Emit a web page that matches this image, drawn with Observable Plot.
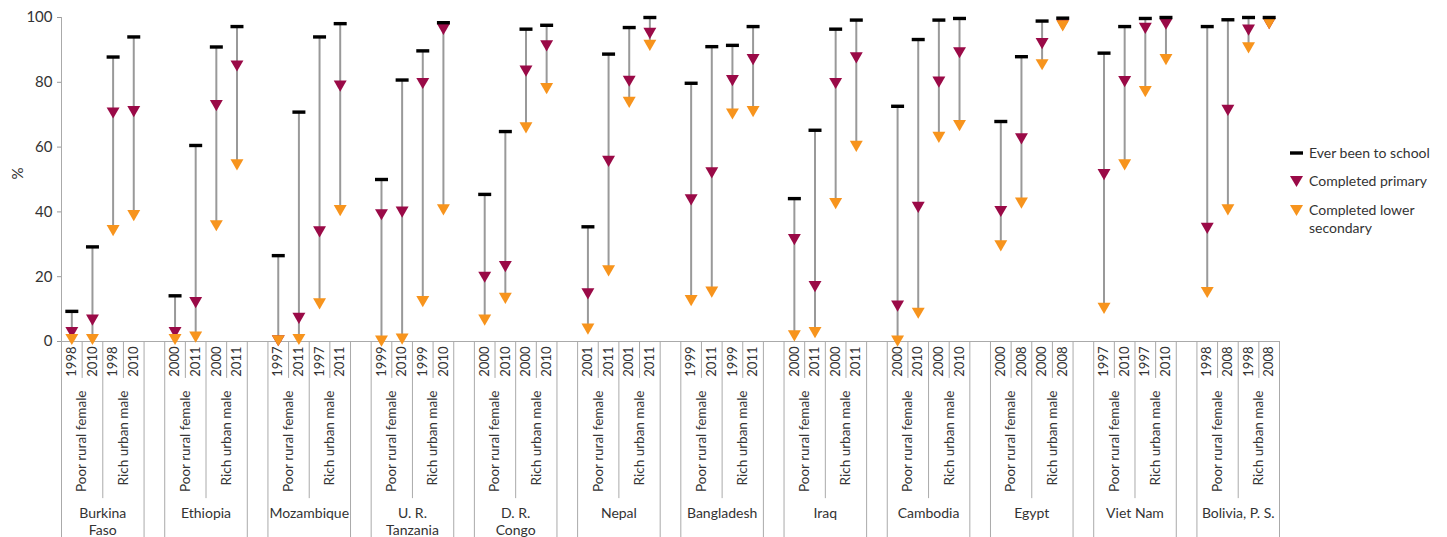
<!DOCTYPE html>
<html>
<head>
<meta charset="utf-8">
<script src="https://cdn.jsdelivr.net/npm/d3@7"></script>
<script src="https://cdn.jsdelivr.net/npm/@observablehq/plot@0.6"></script>
<style>
  html, body { margin: 0; padding: 0; background: #fff; }
  #wrap { position: relative; width: 1447px; height: 537px; overflow: hidden; font-family: Lato, "Open Sans", sans-serif; color: #333; }
  #legend { position: absolute; left: 1288px; top: 144px; font-size: 14px; color: #333; }
  .item { position: absolute; left: 0; white-space: nowrap; }
  .item svg { position: absolute; left: 0; }
  .item span { position: absolute; left: 21px; line-height: 18px; }
</style>
</head>
<body>
<div id="wrap"><div id="legend"></div></div>
<script>
// ---- data ----
const countries = ["Burkina\nFaso", "Ethiopia", "Mozambique", "U. R.\nTanzania", "D. R.\nCongo", "Nepal", "Bangladesh", "Iraq", "Cambodia", "Egypt", "Viet Nam", "Bolivia, P. S."];
const groups = ["Poor rural female", "Rich urban male"];
const firstYear  = [1998, 2000, 1997, 1999, 2000, 2001, 1999, 2000, 2000, 2000, 1997, 1998];
const secondYear = [2010, 2011, 2011, 2010, 2010, 2011, 2011, 2011, 2010, 2008, 2010, 2008];
// per country: poor rural female (year 1, year 2), rich urban male (year 1, year 2)
const everBeenToSchool = [
  9.3, 29.2, 87.8, 94.0,
  14.1, 60.5, 90.9, 97.2,
  26.5, 70.8, 94.0, 98.1,
  50.0, 80.7, 89.7, 98.4,
  45.4, 64.8, 96.4, 97.6,
  35.4, 88.7, 96.9, 100,
  79.7, 91.0, 91.4, 97.2,
  44.1, 65.2, 96.4, 99.2,
  72.6, 93.2, 99.2, 99.7,
  67.9, 87.9, 98.9, 99.8,
  89.0, 97.2, 99.7, 100,
  97.2, 99.3, 100, 100
];
const completedPrimary = [
  3.3, 7.2, 71.1, 71.5,
  3.3, 12.6, 73.4, 85.6,
  0.8, 7.7, 34.4, 79.4,
  39.7, 40.5, 80.2, 96.9,
  20.4, 23.7, 84.0, 91.8,
  15.3, 56.2, 80.9, 95.7,
  44.3, 52.6, 81.1, 87.6,
  32.0, 17.5, 80.2, 88.1,
  11.5, 42.0, 80.6, 89.7,
  40.7, 63.1, 92.5, 98.3,
  52.1, 80.8, 97.2, 98.5,
  35.5, 71.9, 96.7, 98.7
];
const completedLowerSecondary = [
  1.2, 1.2, 34.8, 39.4,
  1.2, 1.9, 36.3, 55.1,
  0.8, 1.2, 12.2, 41.0,
  0.7, 1.3, 12.9, 41.2,
  7.2, 13.9, 66.5, 78.6,
  4.4, 22.4, 74.4, 92.0,
  13.2, 15.8, 70.8, 71.5,
  2.3, 3.3, 43.1, 60.8,
  0.7, 9.3, 63.6, 67.2,
  30.1, 43.3, 86.0, 98.0,
  10.8, 55.1, 77.7, 87.6,
  15.7, 41.2, 91.2, 98.7
];
const yTicks = [0, 20, 40, 60, 80, 100];

// ---- build table ----
const SLOTS = 5; // 4 columns + gap per country
const rows = [];
countries.forEach((country, c) => {
  groups.forEach((group, g) => {
    [firstYear[c], secondYear[c]].forEach((year, t) => {
      const k = g * 2 + t;
      const i = c * 4 + k;
      rows.push({pos: c * SLOTS + k, country, group, year,
        ever: everBeenToSchool[i], prim: completedPrimary[i], sec: completedLowerSecondary[i]});
    });
  });
});
const groupRows = [];
countries.forEach((country, c) => groups.forEach((group, g) => groupRows.push({pos: c * SLOTS + g * 2 + 0.5, group})));
const countryRows = countries.map((country, c) => ({pos: c * SLOTS + 1.5, country}));
const sepYear = [], sepGroup = [], sepCountry = [];
countries.forEach((_, c) => {
  sepYear.push(c * SLOTS + 0.5, c * SLOTS + 2.5);
  sepGroup.push(c * SLOTS + 1.5);
  sepCountry.push(c * SLOTS - 0.5, c * SLOTS + 3.5);
});

const purple = "#9a0a47";
const orange = "#f7941d";
const triDown = {
  draw(ctx, size) {
    const y = Math.sqrt(size / (Math.sqrt(3) * 3));
    ctx.moveTo(0, 2 * y);
    ctx.lineTo(-Math.sqrt(3) * y, -y);
    ctx.lineTo(Math.sqrt(3) * y, -y);
    ctx.closePath();
  }
};
const dash = { draw(ctx) { ctx.rect(-6.5, -1.7, 13, 3.4); } };

const nCols = countries.length * SLOTS - 1;
const sepGrey = "#aaa";
// label-area extents (in y units, below the 0 baseline)
const yearSepEnd = -11.4, groupSepEnd = -48.5, countrySepEnd = -62;

const chart = Plot.plot({
  width: 1447,
  height: 537,
  marginLeft: 61,
  marginRight: 168,
  marginTop: 17,
  marginBottom: 196,
  style: {fontFamily: 'Lato, "Open Sans", sans-serif', color: "#333", background: "white", overflow: "visible"},
  x: {type: "linear", domain: [-0.5, nCols - 0.5], axis: null},
  y: {domain: [0, 100], axis: null},
  marks: [
    Plot.axisY({ticks: yTicks, tickSize: 4, tickPadding: 5, label: null, fontSize: 15, stroke: "#999", fill: "#333"}),
    Plot.ruleX([-0.5], {y1: 0, y2: 100, stroke: sepGrey}),
    Plot.text(["%"], {frameAnchor: "left", dx: -43, rotate: -90, fontSize: 15, fill: "#333"}),
    Plot.ruleY([0], {stroke: sepGrey}),
    Plot.ruleX(sepYear, {y1: 0, y2: yearSepEnd, stroke: sepGrey}),
    Plot.ruleX(sepGroup, {y1: 0, y2: groupSepEnd, stroke: sepGrey}),
    Plot.ruleX(sepCountry, {y1: 0, y2: countrySepEnd, stroke: sepGrey}),
    Plot.text(rows, {x: "pos", y: 0, text: d => String(d.year), rotate: -90, textAnchor: "end", dy: 5, fontSize: 13, fill: "#333"}),
    Plot.text(groupRows, {x: "pos", y: 0, text: "group", rotate: -90, textAnchor: "end", dy: 49, fontSize: 13.5, fill: "#333"}),
    Plot.text(countryRows, {x: "pos", y: 0, text: "country", lineAnchor: "top", dy: 164, lineHeight: 1.25, fontSize: 14, fill: "#333"}),
    Plot.ruleX(rows, {x: "pos", y1: "ever", y2: "sec", stroke: "#999", strokeWidth: 2}),
    Plot.dot(rows, {x: "pos", y: "prim", symbol: triDown, r: 4.8, fill: purple}),
    Plot.dot(rows, {x: "pos", y: "sec", symbol: triDown, r: 4.8, fill: orange}),
    Plot.dot(rows, {x: "pos", y: "ever", symbol: dash, r: 4, fill: "#000"})
  ]
});
document.getElementById("wrap").prepend(chart);

// legend
const legendItems = [
  {label: "Ever been to school", kind: "dash", top: 0},
  {label: "Completed primary", kind: "tri", color: purple, top: 28},
  {label: "Completed lower<br>secondary", kind: "tri", color: orange, top: 57}
];
const legend = document.getElementById("legend");
for (const it of legendItems) {
  const div = document.createElement("div");
  div.className = "item";
  div.style.top = it.top + "px";
  const shape = it.kind === "dash"
    ? '<rect x="2" y="7.3" width="13" height="3.4" fill="#000"/>'
    : `<path d="M2,4 L15,4 L8.5,15 Z" fill="${it.color}"/>`;
  div.innerHTML = `<svg width="18" height="18" style="top:0">${shape}</svg><span>${it.label}</span>`;
  legend.appendChild(div);
}
</script>
</body>
</html>
